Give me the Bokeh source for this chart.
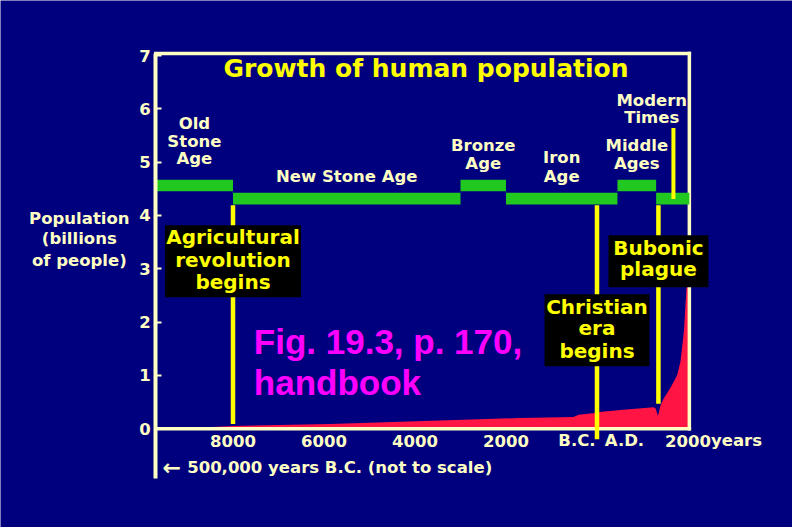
from bokeh.plotting import figure
from bokeh.models import Range1d, FixedTicker, LinearAxis
from bokeh.core.properties import value
from bokeh.embed import file_html
from bokeh.resources import INLINE

# ---------------- data ----------------
pop_year = [-9300, -8000, -5860, -3800, -1700, -520, -400, -200, -80, 0,
            520, 1240, 1290, 1340, 1400, 1470, 1615, 1760, 1835, 1910, 1967, 2020]
pop_billions = [0.0, 0.05, 0.09, 0.145, 0.20, 0.22, 0.26, 0.28, 0.29, 0.31,
                0.35, 0.40, 0.38, 0.24, 0.45, 0.57, 0.77, 1.00, 1.26, 1.82, 2.64, 2.70]

era_lines = [["Old", "Stone", "Age"], ["New Stone Age"], ["Bronze", "Age"],
             ["Iron", "Age"], ["Middle", "Ages"], ["Modern", "Times"]]
era_start = [-9697, -8000, -3000, -2000, 450, 1300]
era_end = [-8000, -3000, -2000, 450, 1300, 2030]
era_tier = [1, 0, 1, 0, 1, 0]

event_lines = [["Agricultural", "revolution", "begins"],
               ["Christian", "era", "begins"],
               ["Bubonic", "plague"]]
event_year = [-8000, 0, 1350]

y_ticks = [0, 1, 2, 3, 4, 5, 6, 7]
x_tick_years = [-8000, -6000, -4000, -2000, 2000]
x_tick_labels = ["8000", "6000", "4000", "2000", "2000"]
y_title_lines = ["Population", "(billions", "of people)"]

# ---------------- style / layout ----------------
NAVY = "#00007f"
CREAM = "#ffffc4"
YELLOW = "#ffff00"
GREEN = "#20c820"
RED = "#ff1444"
MAGENTA = "#ff00ff"
FONT = "DejaVu Sans"
X0, X1 = -13110, 4297
Y0, Y1 = -1.854, 8.034
AXIS_X = -9697
X_END = 2030
Y_TOP = 7.04
Y_AXIS_BOTTOM = -0.929
PX = 1 / 53.3          # one screen pixel in y data units


def lift(fs):
    """vertical correction (data units) for a font size in px"""
    return 0.36 * fs * PX


p = figure(width=792, height=527, x_range=Range1d(X0, X1), y_range=Range1d(Y0, Y1),
           output_backend="svg", toolbar_location=None,
           x_axis_location=None, y_axis_location=None,
           background_fill_color=NAVY, border_fill_color=NAVY, outline_line_color=None,
           min_border_left=0, min_border_right=0, min_border_top=0, min_border_bottom=0)
p.grid.grid_line_color = None

ax = LinearAxis(fixed_location=AXIS_X, bounds=(Y_AXIS_BOTTOM, Y_TOP))
ax.ticker = FixedTicker(ticks=y_ticks)
ax.axis_line_color = CREAM
ax.axis_line_width = 4
ax.major_tick_in = 6
ax.major_tick_out = 0
ax.major_tick_line_color = CREAM
ax.major_tick_line_width = 2
ax.minor_tick_line_color = None
ax.major_label_text_color = CREAM
ax.major_label_text_font = FONT
ax.major_label_text_font_style = "bold"
ax.major_label_text_font_size = "16.5px"
ax.major_label_standoff = 5
p.add_layout(ax, "left")

# population area
p.varea(x=pop_year, y1=0, y2=pop_billions, fill_color=RED)

# frame lines (x axis, right, top)
p.segment(x0=[AXIS_X, X_END, AXIS_X], y0=[0, 0, Y_TOP], x1=[X_END, X_END, X_END],
          y1=[0, Y_TOP, Y_TOP], line_color=CREAM, line_width=3.5, line_cap="square")

# era bars
bar_bottom = [4.456 if t else 4.206 for t in era_tier]
bar_top = [4.67 if t else 4.426 for t in era_tier]
p.quad(left=era_start, right=era_end, bottom=bar_bottom, top=bar_top,
       fill_color=GREEN, line_color=None)

# event lines
ev_bottom = [0.09, -0.2, 0.47]
p.segment(x0=event_year, x1=event_year, y0=ev_bottom, y1=[4.19] * 3,
          line_color=YELLOW, line_width=4.5)
# modern times pointer
MODERN_PTR = 1680
p.segment(x0=[MODERN_PTR], x1=[MODERN_PTR], y0=[4.31], y1=[5.64],
          line_color=YELLOW, line_width=4)

# event boxes
p.rect(x=event_year, y=[3.14, 1.845, 3.14], width=[136, 105, 100], height=[72, 72, 52],
       width_units="screen", height_units="screen", fill_color="black", line_color=None)

ev_base = [[3.456, 3.03, 2.625], [2.143, 1.75, 1.33], [3.25, 2.855]]
tx, ty, tt = [], [], []
for yr, lines, bases in zip(event_year, event_lines, ev_base):
    for t, b in zip(lines, bases):
        tx.append(yr); ty.append(b + lift(20)); tt.append(t)
p.text(x=tx, y=ty, text=tt, text_font=value(FONT), text_font_style="bold",
       text_font_size=value("20px"), text_color=YELLOW, text_align="center",
       text_baseline="alphabetic")

# era labels
era_x = [(s + e) / 2 for s, e in zip(era_start, era_end)]
era_x[5] = 1204
era_base = [[5.608, 5.281, 4.957], [4.613], [5.2, 4.857], [4.97, 4.625], [5.2, 4.857], [6.05, 5.73]]
lx, ly, lt = [], [], []
for xx, lines, bases in zip(era_x, era_lines, era_base):
    for t, b in zip(lines, bases):
        lx.append(xx); ly.append(b + lift(16.5)); lt.append(t)
p.text(x=lx, y=ly, text=lt, text_font=value(FONT), text_font_style="bold",
       text_font_size=value("16.5px"), text_color=CREAM, text_align="center",
       text_baseline="alphabetic")

# x tick labels
XL_Y = -0.334 + lift(16.5)
p.text(x=x_tick_years, y=[XL_Y] * len(x_tick_years), text=x_tick_labels,
       text_font=value(FONT), text_font_style="bold", text_font_size=value("16.5px"),
       text_color=CREAM, text_align="center", text_baseline="alphabetic")
p.text(x=[-440, 604], y=[XL_Y, XL_Y], text=["B.C.", "A.D."],
       text_font=value(FONT), text_font_style="bold", text_font_size=value("16.5px"),
       text_color=CREAM, text_align="center", text_baseline="alphabetic")
p.text(x=[2000], y=[XL_Y], text=["years"], x_offset=23,
       text_font=value(FONT), text_font_style="bold", text_font_size=value("16.5px"),
       text_color=CREAM, text_align="left", text_baseline="alphabetic")
NOTE_Y = -0.846 + lift(16.5)
p.text(x=[-9549], y=[NOTE_Y], text=["\u2190"],
       text_font=value(FONT), text_font_style="bold", text_font_size=value("22px"),
       text_color=CREAM, text_align="left", text_baseline="alphabetic")
p.text(x=[-9007], y=[NOTE_Y], text=["500,000 years B.C. (not to scale)"],
       text_font=value(FONT), text_font_style="bold", text_font_size=value("16.5px"),
       text_color=CREAM, text_align="left", text_baseline="alphabetic")

# title
p.text(x=[-3758], y=[6.58 + lift(25)], text=["Growth of human population"],
       text_font=value(FONT), text_font_style="bold", text_font_size=value("25px"),
       text_color=YELLOW, text_align="center", text_baseline="alphabetic")

# handbook reference
p.text(x=[-7543, -7543], y=[1.405 + lift(35), 0.623 + lift(35)],
       text=["Fig. 19.3, p. 170,", "handbook"],
       text_font=value("Liberation Sans"), text_font_style="bold",
       text_font_size=value("35px"), text_color=MAGENTA, text_align="left",
       text_baseline="alphabetic")

# y axis title (horizontal, three lines)
p.text(x=[-11378] * 3, y=[b + lift(16.5) for b in [3.83, 3.456, 3.04]], text=y_title_lines,
       text_font=value(FONT), text_font_style="bold", text_font_size=value("16.5px"),
       text_color=CREAM, text_align="center", text_baseline="alphabetic")

open("out.html", "w").write(file_html(p, INLINE))
